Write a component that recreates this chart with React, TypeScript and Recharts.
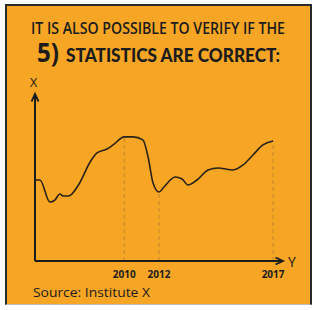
import React from 'react';
import { LineChart, Line, XAxis, YAxis, ReferenceLine } from 'recharts';

const T = [0, 2, 6, 8, 10, 11.5, 13.5, 18, 22, 25, 29, 31.5, 36, 39.5, 43.5, 45.6, 47.6, 50, 52, 56.5, 59.3, 61.7, 65.3, 69.8, 73.8, 79.8, 83.9, 87.9, 91.9, 96];
const V = [48.5, 48.5, 35.3, 36.5, 40.1, 38.9, 38.9, 46.7, 58.7, 64.7, 67.1, 69.5, 74.3, 74.3, 72.5, 62.3, 46.7, 41.3, 44.3, 50.3, 49.1, 45.5, 48.5, 54.5, 55.7, 54.5, 57.5, 63.5, 69.5, 71.9];
const TICK_POS = [36, 50, 96];
const TICK_LABELS = ['2010', '2012', '2017'];

const data = T.map((t, i) => ({ t, v: V[i] }));
const valueAt = (t: number) => V[T.indexOf(t)];

const BG = '#F6A524';
const INK = '#1c1c1c';

export default function App() {
  return (
    <div style={{ position: 'fixed', left: 0, top: 0, width: 316, height: 310, background: '#fff', overflow: 'hidden' }}>
      <div style={{ position: 'absolute', left: 5, top: 4, width: 303, height: 298, background: BG, borderLeft: '2px solid #2a2a2a', borderTop: '2px solid #2a2a2a', borderRight: '2px solid #2a2a2a', borderBottom: '1px solid #bbb' }} />
      <svg width={0} height={0} style={{ position: 'absolute' }}>
        <defs>
          <marker id="arrow" markerUnits="userSpaceOnUse" markerWidth="12" markerHeight="12" refX="8" refY="4" orient="auto-start-reverse">
            <path d="M0.5,0.5 L8,4 L0.5,7.5" fill="none" stroke={INK} strokeWidth="1.8" />
          </marker>
        </defs>
      </svg>
      <div style={{ position: 'absolute', left: 0, top: 0 }}>
        <LineChart width={316} height={310} data={data} margin={{ top: 94, right: 33, bottom: 29, left: 25 }}>
          <XAxis
            dataKey="t"
            type="number"
            domain={[0, 100]}
            ticks={TICK_POS}
            tickFormatter={(t: number) => TICK_LABELS[TICK_POS.indexOf(t)]}
            height={20}
            tickLine={false}
            tickSize={6}
            tickMargin={4}
            axisLine={{ stroke: INK, strokeWidth: 2, markerEnd: 'url(#arrow)' } as any}
            tick={{ fill: INK, fontSize: 10, fontWeight: 700, fontFamily: 'Open Sans' }}
            interval={0}
          />
          <YAxis
            type="number"
            domain={[0, 100]}
            width={10}
            tick={false}
            tickLine={false}
            axisLine={{ stroke: INK, strokeWidth: 2, markerStart: 'url(#arrow)' } as any}
          />
          {TICK_POS.map((t) => (
            <ReferenceLine
              key={t}
              segment={[{ x: t, y: 0 }, { x: t, y: valueAt(t) }]}
              stroke="#c0862f"
              strokeWidth={1}
              strokeDasharray="4 3"
            />
          ))}
          <Line
            type="monotone"
            dataKey="v"
            stroke="#2a2218"
            strokeWidth={1.6}
            dot={false}
            isAnimationActive={false}
          />
        </LineChart>
      </div>
      <svg width={316} height={310} style={{ position: 'absolute', left: 0, top: 0, pointerEvents: 'none' }}>
        <text x={31} y={34} textLength={254} lengthAdjust="spacingAndGlyphs" fontFamily="Open Sans" fontWeight={600} fontSize={15.5} fill={INK}>
          IT IS ALSO POSSIBLE TO VERIFY IF THE
        </text>
        <text x={37} y={62} textLength={22} lengthAdjust="spacingAndGlyphs" fontFamily="Open Sans" fontWeight={700} fontSize={26} fill={INK}>
          5)
        </text>
        <text x={66} y={62} textLength={214} lengthAdjust="spacingAndGlyphs" fontFamily="Lato" fontWeight={900} fontSize={19} fill={INK}>
          STATISTICS ARE CORRECT:
        </text>
        <text x={30} y={87} fontFamily="Open Sans" fontWeight={500} fontSize={12.5} fill={INK}>X</text>
        <text x={288} y={267} fontFamily="Open Sans" fontWeight={400} fontSize={14} fill={INK}>Y</text>
        <text x={33} y={297} textLength={117} lengthAdjust="spacingAndGlyphs" fontFamily="Open Sans" fontWeight={400} fontSize={13.5} fill={INK}>
          Source: Institute X
        </text>
      </svg>
    </div>
  );
}
